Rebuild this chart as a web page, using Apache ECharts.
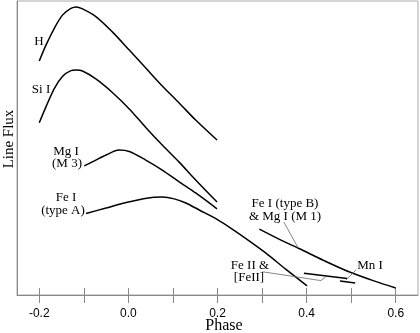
<!DOCTYPE html>
<html>
<head>
<meta charset="utf-8">
<script src="https://cdn.jsdelivr.net/npm/echarts@6.0.0/dist/echarts.min.js"></script>
<style>
  html, body { margin: 0; padding: 0; background: #fff; }
  #chart { width: 420px; height: 333px; }
</style>
</head>
<body>
<div id="chart"></div>
<script>
// phase ticks
const tickValues = [-0.2, -0.1, 0.0, 0.1, 0.2, 0.3, 0.4, 0.5, 0.6];
const labelValues = [-0.2, 0.0, 0.2, 0.4, 0.6];

// [phase, line flux] (flux in arbitrary units 0..100)
const hLine = [[-0.200, 79.6], [-0.185, 85.0], [-0.166, 90.8], [-0.148, 95.2], [-0.129, 97.5], [-0.117, 98.0],
  [-0.104, 97.4], [-0.073, 94.7], [-0.036, 89.5], [0.002, 83.3], [0.039, 77.2], [0.076, 71.1],
  [0.114, 65.3], [0.151, 59.5], [0.199, 52.7]];
const siLine = [[-0.200, 58.6], [-0.185, 64.0], [-0.166, 70.3], [-0.148, 74.3], [-0.129, 76.3], [-0.117, 76.5],
  [-0.103, 76.2], [-0.073, 73.5], [-0.036, 68.9], [0.002, 63.3], [0.039, 57.0], [0.076, 51.0],
  [0.114, 45.2], [0.151, 39.1], [0.199, 31.6]];
const mgM3Line = [[-0.099, 43.9], [-0.073, 45.9], [-0.050, 47.6], [-0.021, 49.3], [0.002, 48.8], [0.039, 45.9],
  [0.076, 42.5], [0.114, 38.5], [0.151, 34.7], [0.199, 29.3]];
const feALine = [[-0.095, 27.7], [-0.050, 29.6], [0.002, 31.7], [0.053, 33.2], [0.076, 33.3], [0.103, 32.7],
  [0.129, 31.3], [0.159, 28.9], [0.199, 25.7], [0.233, 22.4], [0.271, 18.4], [0.308, 14.3],
  [0.353, 8.8], [0.401, 3.1]];
const feBLine = [[0.294, 22.4], [0.338, 19.0], [0.383, 15.8], [0.439, 11.7], [0.495, 7.9], [0.551, 4.8], [0.600, 2.4]];
const feIILine = [[0.394, 7.4], [0.491, 5.6]];
const mnLine = [[0.475, 4.8], [0.509, 4.1]];

// leader lines from the labels
const feBLeader = [[0.349, 24.8], [0.381, 16.0]];
const feIILeader = [[0.301, 7.9], [0.432, 4.9], [0.443, 6.2]];
const mnLeader = [[0.511, 8.5], [0.488, 5.1]];

const labelFont = '13px "Liberation Serif"';

function curve(name, data) {
  return {
    name: name,
    type: 'line',
    data: data,
    symbol: 'none',
    smooth: 0.3,
    lineStyle: { color: '#000', width: 1.5 },
    silent: true
  };
}
function leader(name, data) {
  return {
    name: name,
    type: 'line',
    data: data,
    symbol: 'none',
    lineStyle: { color: '#666', width: 0.8 },
    silent: true
  };
}
function label(text, x, y, font) {
  return {
    type: 'text',
    x: x,
    y: y,
    style: { text: text, font: font || labelFont, fill: '#000', align: 'center', verticalAlign: 'middle' }
  };
}

const chart = echarts.init(document.getElementById('chart'));
const option = {
  backgroundColor: '#fff',
  animation: false,
  grid: {
    left: 17, right: 2, top: 1, bottom: 38,
    containLabel: false,
    outerBoundsMode: 'none',
    show: true, borderColor: '#aaa', borderWidth: 1
  },
  xAxis: [
    {
      type: 'value',
      min: -0.25,
      max: 0.65,
      axisLine: { show: true, onZero: false, lineStyle: { color: '#888' } },
      axisTick: { show: true, length: 8, customValues: tickValues, lineStyle: { color: '#888' } },
      axisLabel: {
        customValues: labelValues,
        margin: 13,
        fontFamily: 'Liberation Sans',
        fontSize: 12,
        color: '#000',
        formatter: function(v) { return v.toFixed(1); }
      },
      splitLine: { show: false }
    },
    {
      type: 'value',
      min: -0.25,
      max: 0.65,
      position: 'bottom',
      axisLine: { show: false, onZero: false },
      axisTick: { show: true, inside: true, length: 7, customValues: tickValues, lineStyle: { color: '#888' } },
      axisLabel: { show: false },
      splitLine: { show: false }
    }
  ],
  yAxis: {
    type: 'value',
    min: 0,
    max: 100,
    axisLine: { show: true, onZero: false, lineStyle: { color: '#888' } },
    axisTick: { show: false },
    axisLabel: { show: false },
    splitLine: { show: false }
  },
  graphic: [
    // axis titles
    {
      type: 'text',
      x: 9,
      y: 139,
      rotation: Math.PI / 2,
      style: { text: 'Line Flux', font: '15px "Liberation Serif"', fill: '#000', align: 'center', verticalAlign: 'middle' }
    },
    label('Phase', 224, 326, '16px "Liberation Serif"'),
    // curve labels
    label('H', 39, 42),
    label('Si I', 41, 90),
    label('Mg I', 66, 152),
    label('(M 3)', 67, 164),
    label('Fe I', 66, 198),
    label('(type A)', 63, 211),
    label('Fe I (type B)', 285, 204),
    label('& Mg I (M 1)', 285, 217),
    label('Fe II &', 250, 266),
    label('[FeII]', 249, 278),
    label('Mn I', 370, 266)
  ],
  series: [
    curve('H', hLine),
    curve('Si I', siLine),
    curve('Mg I (M 3)', mgM3Line),
    curve('Fe I (type A)', feALine),
    curve('Fe I (type B) & Mg I (M 1)', feBLine),
    curve('Fe II & [FeII]', feIILine),
    curve('Mn I', mnLine),
    leader('leader B', feBLeader),
    leader('leader Fe II', feIILeader),
    leader('leader Mn', mnLeader)
  ]
};
chart.setOption(option);
</script>
</body>
</html>
